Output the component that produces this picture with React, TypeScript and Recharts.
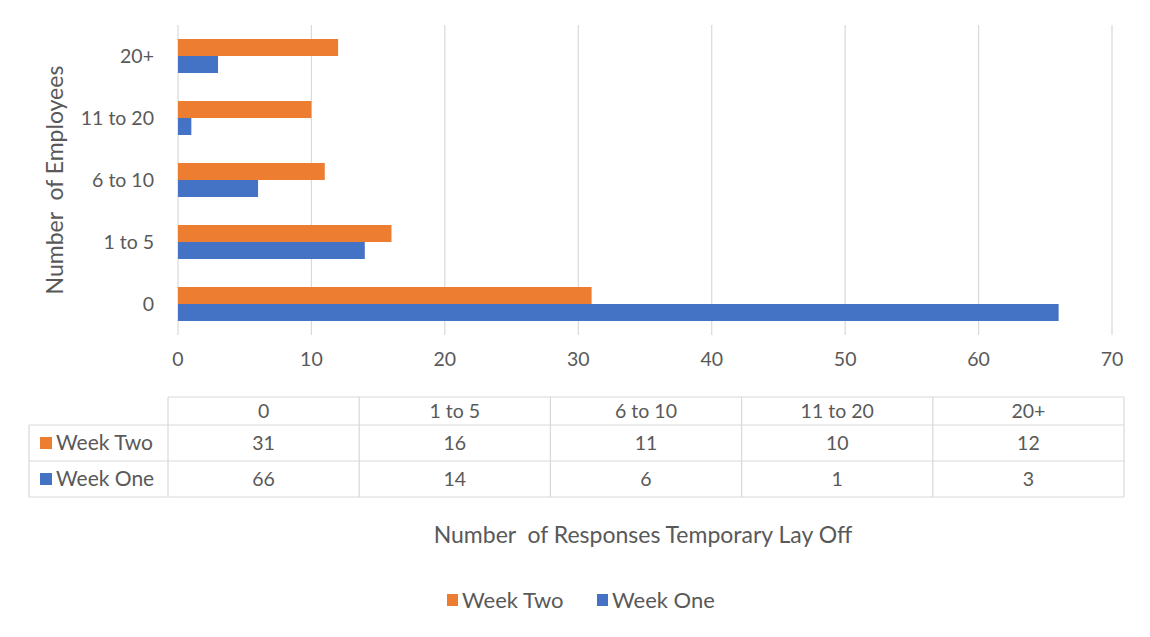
import { Bar, BarChart, CartesianGrid, XAxis, YAxis } from "recharts";

const categories = ["0", "1 to 5", "6 to 10", "11 to 20", "20+"];
const weekTwo = [31, 16, 11, 10, 12];
const weekOne = [66, 14, 6, 1, 3];
const xTicks = [0, 10, 20, 30, 40, 50, 60, 70];

const ORANGE = "#ED7D31";
const BLUE = "#4472C4";
const TEXT = "#595959";
const LINE = "#D9D9D9";
const FONT = "Lato, 'Open Sans', sans-serif";

const data = categories.map((name, i) => ({
  name,
  weekTwo: weekTwo[i],
  weekOne: weekOne[i],
}));

const rows = [
  { label: "Week Two", color: ORANGE, values: weekTwo },
  { label: "Week One", color: BLUE, values: weekOne },
];

// data table geometry
const tLeft = 29;
const tLabelRight = 168;
const tRight = 1124;
const rowY = [397, 425, 461, 497];
const colW = (tRight - tLabelRight) / categories.length;

const DataTable = () => (
  <svg
    width={1150}
    height={637}
    style={{ position: "absolute", left: 0, top: 0, pointerEvents: "none" }}
    fontFamily={FONT}
  >
    <rect x={0.5} y={0.5} width={1149} height={636} fill="none" stroke={LINE} />
    <g stroke={LINE} strokeWidth={1.2}>
      <line x1={tLabelRight} x2={tRight} y1={rowY[0]} y2={rowY[0]} />
      {rowY.slice(1).map((y) => (
        <line key={y} x1={tLeft} x2={tRight} y1={y} y2={y} />
      ))}
      <line x1={tLeft} x2={tLeft} y1={rowY[1]} y2={rowY[3]} />
      {categories.map((c, i) => (
        <line
          key={c}
          x1={tLabelRight + i * colW}
          x2={tLabelRight + i * colW}
          y1={rowY[0]}
          y2={rowY[3]}
        />
      ))}
      <line x1={tRight} x2={tRight} y1={rowY[0]} y2={rowY[3]} />
    </g>
    <g fill={TEXT} fontSize={19.5} textAnchor="middle">
      {categories.map((c, i) => (
        <text key={c} x={tLabelRight + (i + 0.5) * colW} y={(rowY[0] + rowY[1]) / 2} dy="0.35em">
          {c}
        </text>
      ))}
      {rows.map((r, ri) =>
        r.values.map((v, i) => (
          <text
            key={r.label + i}
            x={tLabelRight + (i + 0.5) * colW}
            y={(rowY[ri + 1] + rowY[ri + 2]) / 2}
            dy="0.35em"
          >
            {v}
          </text>
        ))
      )}
    </g>
    {rows.map((r, ri) => {
      const cy = (rowY[ri + 1] + rowY[ri + 2]) / 2;
      return (
        <g key={r.label}>
          <rect x={40} y={cy - 6} width={12} height={12} fill={r.color} />
          <text x={56} y={cy} dy="0.35em" fill={TEXT} fontSize={21}>
            {r.label}
          </text>
        </g>
      );
    })}
    <text
      transform="translate(55,180) rotate(-90)"
      textAnchor="middle"
      dy="0.35em"
      fill={TEXT}
      fontSize={23}
      xmlSpace="preserve"
    >
      Number  of Employees
    </text>
    <text x={643} y={535} textAnchor="middle" dy="0.35em" fill={TEXT} fontSize={23} xmlSpace="preserve">
      Number  of Responses Temporary Lay Off
    </text>
    {rows.map((r, ri) => {
      const x = 447 + ri * 150;
      return (
        <g key={"lg" + r.label}>
          <rect x={x} y={594} width={11} height={12} fill={r.color} />
          <text x={x + 15} y={600} dy="0.35em" fill={TEXT} fontSize={22}>
            {r.label}
          </text>
        </g>
      );
    })}
  </svg>
);

export default function App() {
  return (
    <div
      style={{
        position: "relative",
        margin: -8,
        width: 1150,
        height: 637,
        background: "#fff",
      }}
    >
      <BarChart
        width={1150}
        height={637}
        data={data}
        layout="vertical"
        margin={{ top: 25, right: 38, bottom: 262, left: 58 }}
        barSize={17}
        barGap={0}
      >
        <CartesianGrid horizontal={false} stroke={LINE} strokeWidth={1.2} />
        <XAxis
          type="number"
          domain={[0, 70]}
          ticks={xTicks}
          axisLine={false}
          tickLine={false}
          tickSize={0}
          tickMargin={17}
          height={40}
          tick={{ fill: TEXT, fontSize: 19.5, fontFamily: FONT }}
        />
        <YAxis
          type="category"
          dataKey="name"
          reversed
          width={120}
          axisLine={false}
          tickLine={false}
          tickSize={0}
          tickMargin={24}
          tick={{ fill: TEXT, fontSize: 19.5, fontFamily: FONT }}
        />
        <Bar dataKey="weekTwo" name="Week Two" fill={ORANGE} isAnimationActive={false} />
        <Bar dataKey="weekOne" name="Week One" fill={BLUE} isAnimationActive={false} />
      </BarChart>
      <DataTable />
    </div>
  );
}
